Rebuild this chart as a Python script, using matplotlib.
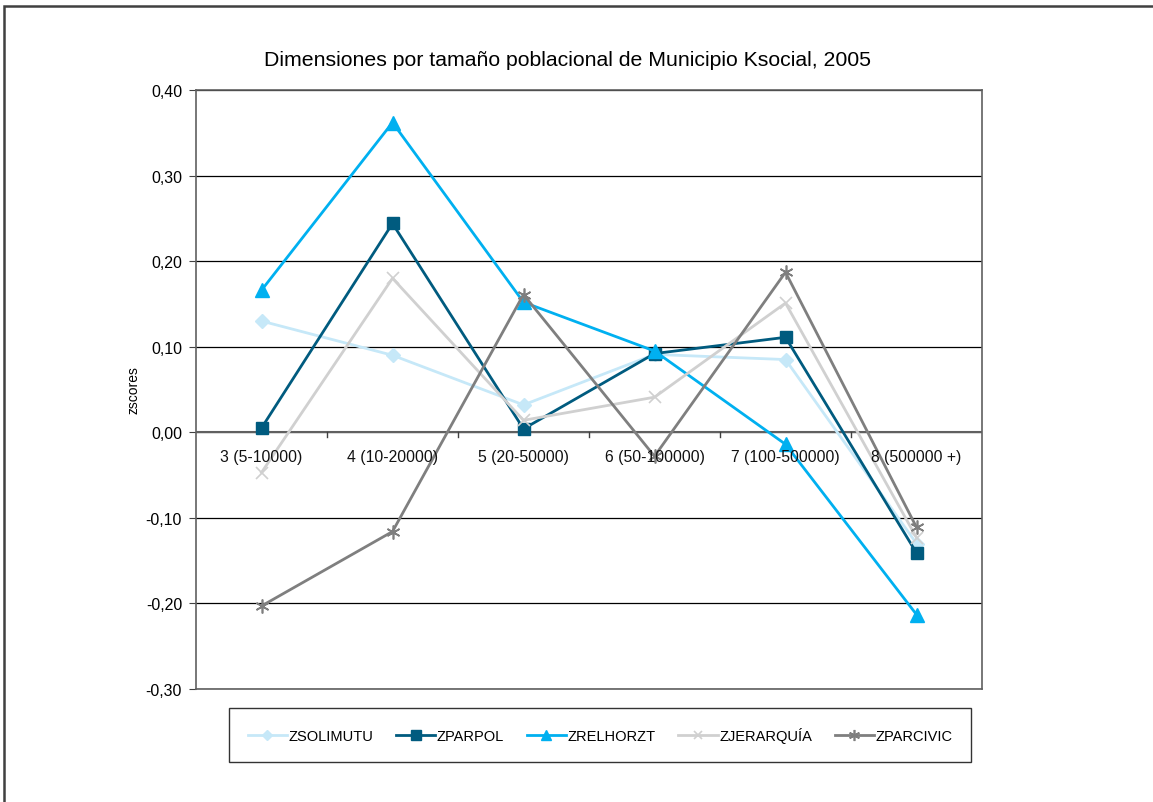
import matplotlib
matplotlib.use("Agg")
import matplotlib.pyplot as plt
from matplotlib.patches import Rectangle

plt.rcParams["font.family"] = ["Liberation Sans", "DejaVu Sans"]

categories = ["3 (5-10000)", "4 (10-20000)", "5 (20-50000)", "6 (50-100000)",
              "7 (100-500000)", "8 (500000 +)"]
zsolimutu = [0.130, 0.090, 0.032, 0.091, 0.085, -0.130]
zparpol = [0.005, 0.244, 0.004, 0.092, 0.111, -0.141]
zrelhorzt = [0.166, 0.362, 0.152, 0.095, -0.014, -0.213]
zjerarquia = [-0.047, 0.180, 0.014, 0.041, 0.151, -0.123]
zparcivic = [-0.203, -0.116, 0.161, -0.028, 0.187, -0.111]
yticks = [-0.3, -0.2, -0.1, 0.0, 0.1, 0.2, 0.3, 0.4]

series = [
    ("ZSOLIMUTU", zsolimutu, "#c6e8f8", "D", 7, None),
    ("ZPARPOL", zparpol, "#005b7f", "s", 8.5, None),
    ("ZRELHORZT", zrelhorzt, "#00b0f0", "^", 9.5, None),
    ("ZJERARQUÍA", zjerarquia, "#d0d0d0", "x", 8, 1.2),
    ("ZPARCIVIC", zparcivic, "#7f7f7f", (6, 2, 0), 10, 1.2),
]

fig = plt.figure(figsize=(11.53, 8.03), dpi=100)
ax = fig.add_axes([196 / 1153, 1 - 690 / 803, 786 / 1153, 599 / 803])

x = list(range(len(categories)))
for name, vals, c, m, ms, mew in series:
    kw = dict(color=c, lw=2.0, marker=m, markersize=ms, label=name,
              markerfacecolor=c, markeredgecolor=c)
    if mew:
        kw["markeredgewidth"] = mew
    ax.plot(x, vals, **kw)

ax.set_xlim(-0.5, len(categories) - 0.5)
ax.set_ylim(-0.3, 0.4)
ax.set_yticks(yticks)
ax.set_yticklabels([f"{v:.2f}".replace(".", ",") for v in yticks], fontsize=11.5)
ax.yaxis.grid(True, color="#000000", lw=0.9)
ax.set_axisbelow(True)
for s in ax.spines.values():
    s.set_color("#606060")
    s.set_linewidth(1.2)
ax.tick_params(axis="y", length=5, color="#404040", pad=5)
ax.set_xticks([])

# category axis drawn at zero
ax.axhline(0, color="#606060", lw=1.5, zorder=1)
for b in range(1, len(categories)):
    ax.plot([b - 0.5, b - 0.5], [0, -0.006], color="#404040", lw=1, zorder=1, clip_on=False)
for i, lab in enumerate(categories):
    ax.text(i, -0.019, lab, ha="center", va="top", fontsize=11.3, color="#111111", zorder=3)

ax.set_ylabel("zscores", fontsize=10, labelpad=4)

fig.text(568 / 1153, 1 - 61 / 803, "Dimensiones por tamaño poblacional de Municipio Ksocial, 2005",
         ha="center", va="center", fontsize=15.3)

leg = fig.legend(loc="center", bbox_to_anchor=(600 / 1153, 1 - 736 / 803), ncol=5,
                 frameon=True, fancybox=False, fontsize=10.5, handlelength=2.7,
                 columnspacing=1.55, handletextpad=0.1, borderpad=1.3, markerscale=0.8)
leg.get_frame().set_edgecolor("#000000")
leg.get_frame().set_linewidth(1.0)

# outer chart frame (extends beyond the image on right/bottom)
fig.add_artist(Rectangle((4 / 1153, -0.05), 1.2, 1 - 7 / 803 + 0.05, transform=fig.transFigure,
                         fill=False, edgecolor="#404040", lw=1.8))

fig.savefig("out.png", dpi=100)
